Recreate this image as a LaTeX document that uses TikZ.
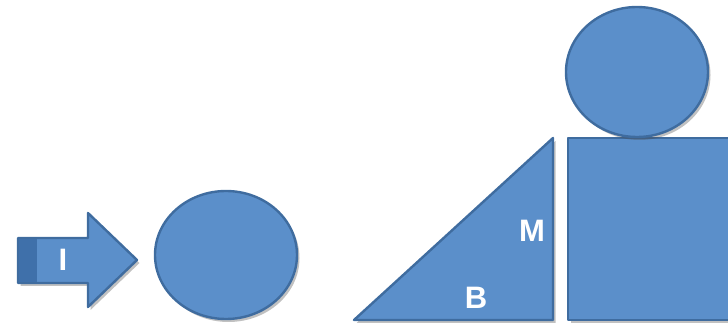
\documentclass[tikz,border=0pt]{standalone}
\usepackage{fontspec}
\setmainfont{Liberation Sans}
\usetikzlibrary{shadows}
\definecolor{shapefill}{HTML}{5B8FCA}
\definecolor{shapeline}{HTML}{3F6C9F}
\definecolor{stripfill}{HTML}{3F70AA}
\begin{document}
\begin{tikzpicture}[x=1pt,y=-1pt,
  shapestyle/.style={fill=shapefill,draw=shapeline,line width=2.4pt,line join=round,
    drop shadow={shadow xshift=2.5pt,shadow yshift=-3pt,opacity=0.35,fill=black!70}},
  lbl/.style={text=white,font=\bfseries\fontsize{31}{31}\selectfont,inner sep=0pt}]
\useasboundingbox (0,0) rectangle (728,328);
% arrow
\path[shapestyle] (18,238) -- (88,238) -- (88,213) -- (137,260) -- (88,307) -- (88,283) -- (18,283) -- cycle;
\fill[stripfill] (19.2,239.2) rectangle (37,281.8);
\node[lbl] (i) at (63,260) {I};
% left circle
\path[shapestyle] (226,255) ellipse [x radius=71, y radius=64];
\coordinate (c1) at (226,255);
% triangle
\path[shapestyle] (354,320) -- (553,138) -- (553,320) -- cycle;
\node[lbl] (m) at (532,231) {M};
\node[lbl] (b) at (476,298) {B};
% square
\path[shapestyle] (568,138) rectangle (740,320);
% top circle
\path[shapestyle] (637,72) ellipse [x radius=71, y radius=65];
\end{tikzpicture}
\end{document}
